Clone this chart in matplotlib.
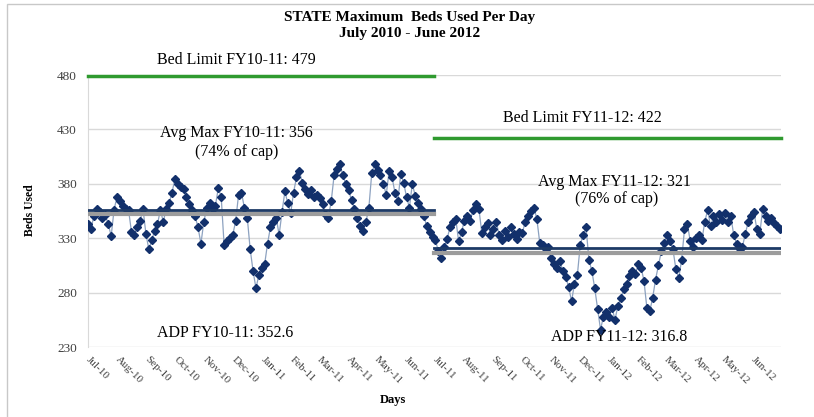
import numpy as np
import pandas as pd
import matplotlib
matplotlib.use('Agg')
import matplotlib.pyplot as plt
from matplotlib.patches import Rectangle

plt.rcParams['font.family'] = ['Liberation Serif', 'DejaVu Serif']

month_labels = ['Jul-10', 'Aug-10', 'Sep-10', 'Oct-10', 'Nov-10', 'Dec-10',
                'Jan-11', 'Feb-11', 'Mar-11', 'Apr-11', 'May-11', 'Jun-11',
                'Jul-11', 'Aug-11', 'Sep-11', 'Oct-11', 'Nov-11', 'Dec-11',
                'Jan-12', 'Feb-12', 'Mar-12', 'Apr-12', 'May-12', 'Jun-12']

# max beds used (~every 3 days)
beds = [
    343, 338, 350, 357, 354, 349, 351, 343, 332, 356,  # Jul-10
    368, 364, 360, 357, 356, 336, 333, 340, 346, 357,  # Aug-10
    334, 320, 328, 337, 343, 356, 345, 357, 362, 372,  # Sep-10
    384, 380, 377, 375, 368, 361, 356, 350, 340, 325,  # Oct-10
    345, 358, 362, 357, 360, 376, 368, 324, 327, 330,  # Nov-10
    333, 346, 370, 372, 358, 349, 320, 300, 284, 296,  # Dec-10
    303, 306, 325, 340, 345, 349, 333, 354, 373, 362,  # Jan-11
    353, 372, 386, 392, 381, 375, 371, 374, 368, 370,  # Feb-11
    367, 361, 352, 349, 364, 388, 394, 398, 388, 380,  # Mar-11
    374, 365, 357, 349, 341, 337, 345, 358, 390, 398,  # Apr-11
    393, 388, 380, 370, 392, 386, 372, 364, 389, 381,  # May-11
    368, 358, 380, 369, 362, 357, 350, 341, 336, 331,  # Jun-11
    328, 318, 312, 322, 329, 340, 345, 348, 327, 336,  # Jul-11
    346, 350, 346, 356, 361, 357, 335, 340, 344, 333,  # Aug-11
    338, 345, 333, 328, 337, 331, 340, 334, 329, 336,  # Sep-11
    335, 345, 350, 355, 358, 348, 326, 324, 320, 322,  # Oct-11
    312, 306, 303, 309, 300, 294, 285, 272, 288, 296,  # Nov-11
    324, 333, 340, 310, 300, 284, 265, 246, 258, 262,  # Dec-11
    258, 266, 255, 268, 275, 283, 288, 295, 300, 297,  # Jan-12
    306, 303, 291, 266, 263, 275, 292, 305, 318, 326,  # Feb-12
    333, 327, 320, 302, 293, 310, 338, 343, 327, 322,  # Mar-12
    330, 333, 328, 345, 356, 341, 350, 345, 352, 347,  # Apr-12
    353, 345, 350, 333, 325, 320, 322, 334, 345, 350,  # May-12
    354, 338, 334, 357, 350, 346, 349, 344, 341, 338,  # Jun-12
]

fy_names = ['FY10-11', 'FY11-12']
bed_limit = [479, 422]
avg_max = [356, 321]
adp = [352.6, 316.8]
cap_pct = [74, 76]

start = pd.Timestamp('2010-07-01')
dates = pd.date_range(start, '2012-06-30', periods=len(beds))
x = (dates - start) / pd.Timedelta(days=1)
month_pos = (pd.date_range(start, periods=len(month_labels), freq='MS') - start).days
fy_edges = [0, 365, 731]

W, H = 814, 417
fig = plt.figure(figsize=(W / 100, H / 100), dpi=100)
ax = fig.add_axes([88 / W, 1 - 347 / H, (781 - 88) / W, (347 - 75) / H])

ax.plot(x, beds, color='#8da2c0', lw=0.9, marker='D', ms=3.8,
        mfc='#12306b', mec='#12306b', zorder=3)

for i in range(2):
    x0, x1 = fy_edges[i], fy_edges[i + 1]
    ax.plot([x0, x1], [bed_limit[i]] * 2, color='#2f9a2f', lw=2.5,
            clip_on=False, zorder=4)
    ax.plot([x0, x1], [adp[i]] * 2, color='#9c9c9c', lw=3, zorder=4)
    ax.plot([x0, x1], [avg_max[i]] * 2, color='#1d3a66', lw=2, zorder=5)

ax.set_xlim(0, 731)
ax.set_ylim(230, 480)
ax.set_yticks(range(230, 481, 50))
ax.grid(axis='y', color='#d9d9d9', lw=1)
ax.set_axisbelow(True)
for s in ['top', 'right', 'bottom']:
    ax.spines[s].set_visible(False)
ax.spines['left'].set_color('#d9d9d9')

ax.set_xticks(month_pos)
ax.set_xticklabels(month_labels, rotation=-45, ha='left', va='center',
                   rotation_mode='anchor', fontsize=8, color='#404040')
ax.tick_params(axis='x', length=0, pad=8)
ax.tick_params(axis='y', length=0, pad=8, labelsize=9.5, labelcolor='#404040')

fs = 11.5
# annotations
ax.text(157, 494, f'Bed Limit {fy_names[0]}: {bed_limit[0]}', ha='center',
        va='center', fontsize=fs, clip_on=False)
ax.text(157, 426.5, f'Avg Max {fy_names[0]}: {avg_max[0]}', ha='center',
        va='center', fontsize=fs)
ax.text(157, 409, f'({cap_pct[0]}% of cap)', ha='center', va='center', fontsize=fs)
ax.text(521, 440.5, f'Bed Limit {fy_names[1]}: {bed_limit[1]}', ha='center',
        va='center', fontsize=fs)
ax.text(555, 381.5, f'Avg Max {fy_names[1]}: {avg_max[1]}', ha='center',
        va='center', fontsize=fs)
ax.text(558, 366, f'({cap_pct[1]}% of cap)', ha='center', va='center', fontsize=fs)
ax.text(145, 243, f'ADP {fy_names[0]}: {adp[0]}', ha='center', va='center',
        fontsize=fs)
ax.text(560, 239.5, f'ADP {fy_names[1]}: {adp[1]}', ha='center', va='center',
        fontsize=fs)

fig.text(0.503, 1 - 17 / H, 'STATE Maximum  Beds Used Per Day', ha='center',
         va='center', fontsize=11, fontweight='bold')
fig.text(0.503, 1 - 33 / H, 'July 2010 - June 2012', ha='center',
         va='center', fontsize=11, fontweight='bold')
fig.text(30 / W, 1 - 210 / H, 'Beds Used', rotation=90, ha='center',
         va='center', fontsize=8.5, fontweight='bold')
fig.text(393 / W, 1 - 400 / H, 'Days', ha='center', va='center',
         fontsize=9, fontweight='bold')

fig.patches.append(Rectangle((7 / W, -0.1), 1.2, 1 - 4 / H + 0.1,
                             transform=fig.transFigure, fill=False,
                             ec='#c8c8c8', lw=1))

fig.savefig('out.png', dpi=100)
